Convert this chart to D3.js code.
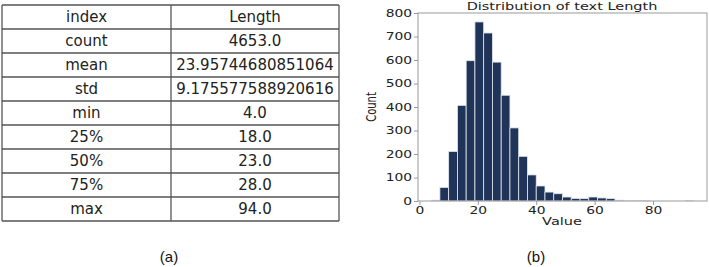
<!DOCTYPE html>
<html>
<head>
<meta charset="utf-8">
<script src="https://cdn.jsdelivr.net/npm/d3@7"></script>
<style>
  body { margin: 0; background: #fff; }
  svg { display: block; }
</style>
</head>
<body>
<div id="fig"></div>
<script>
// table (a)
var statNames = ["count", "mean", "std", "min", "25%", "50%", "75%", "max"];
var statValues = ["4653.0", "23.95744680851064", "9.175577588920616", "4.0", "18.0", "23.0", "28.0", "94.0"];
var tableHeader = ["index", "Length"];

// histogram (b): 30 bins of width 3 from 4 to 94
var binStarts = [4, 7, 10, 13, 16, 19, 22, 25, 28, 31, 34, 37, 40, 43, 46, 49, 52, 55, 58, 61, 64, 67, 70, 73, 76, 79, 82, 85, 88, 91];
var binCounts = [4, 58, 211, 407, 597, 762, 715, 591, 450, 311, 190, 111, 64, 38, 31, 17, 11, 10, 17, 13, 10, 4, 2, 1, 1, 0, 0, 0, 0, 1];
var binWidth = 3;
var xTicks = [0, 20, 40, 60, 80];
var yTicks = [0, 100, 200, 300, 400, 500, 600, 700, 800];

var W = 709, H = 267;
var svg = d3.select("#fig").append("svg")
  .attr("width", W)
  .attr("height", H);

// ---- table ----
var tLeft = 2, tMid = 171, tRight = 339, tTop = 5, rowH = 24;
var rows = [tableHeader].concat(statNames.map(function(n, i){ return [n, statValues[i]]; }));
var ty = d3.scaleLinear().domain([0, rows.length]).range([tTop, tTop + rows.length * rowH]);

var table = svg.append("g");
table.selectAll("line.h")
  .data(d3.range(rows.length + 1)).enter()
  .append("line")
  .attr("x1", tLeft).attr("x2", tRight)
  .attr("y1", function(d){ return ty(d); })
  .attr("y2", function(d){ return ty(d); })
  .attr("stroke", "#555").attr("stroke-width", 1.3);
table.selectAll("line.v")
  .data([tLeft, tMid, tRight]).enter()
  .append("line")
  .attr("x1", function(d){ return d; }).attr("x2", function(d){ return d; })
  .attr("y1", ty(0)).attr("y2", ty(rows.length))
  .attr("stroke", "#555").attr("stroke-width", 1.3);

rows.forEach(function(r, i){
  [0, 1].forEach(function(c){
    table.append("text")
      .attr("x", c == 0 ? (tLeft + tMid) / 2 : (tMid + tRight) / 2)
      .attr("y", ty(i) + rowH / 2)
      .attr("dy", "0.36em")
      .attr("text-anchor", "middle")
      .attr("font-family", "DejaVu Sans")
      .attr("font-size", 15)
      .attr("fill", "#222")
      .text(r[c]);
  });
});

// ---- histogram ----
var sx = 1.38; // horizontal stretch of the source image text
var x = d3.scaleLinear().domain([-0.5, 98.5]).range([418, 707]);
var y = d3.scaleLinear().domain([0, 800]).range([201, 13]);

var hist = svg.append("g");
hist.selectAll("rect")
  .data(binStarts).enter()
  .append("rect")
  .attr("x", function(d){ return x(d); })
  .attr("width", function(d){ return x(d + binWidth) - x(d); })
  .attr("y", function(d, i){ return y(binCounts[i]); })
  .attr("height", function(d, i){ return y(0) - y(binCounts[i]); })
  .attr("fill", "#203459")
  .attr("stroke", "#e4e8ee")
  .attr("stroke-width", 0.8);

// frame
hist.append("rect")
  .attr("x", x.range()[0]).attr("y", y.range()[1])
  .attr("width", x.range()[1] - x.range()[0])
  .attr("height", y.range()[0] - y.range()[1])
  .attr("fill", "none")
  .attr("stroke", "#9a9a9a")
  .attr("stroke-width", 1);

var xAxis = hist.append("g")
  .attr("transform", "translate(0," + y(0) + ")")
  .call(d3.axisBottom(x).tickValues(xTicks).tickSize(4).tickPadding(2).tickFormat(d3.format("d")));
var yAxis = hist.append("g")
  .attr("transform", "translate(" + x.range()[0] + ",0)")
  .call(d3.axisLeft(y).tickValues(yTicks).tickSize(4).tickPadding(2).tickFormat(d3.format("d")));

[xAxis, yAxis].forEach(function(a){
  a.select(".domain").remove();
  a.selectAll(".tick line").attr("stroke", "#9a9a9a");
  a.selectAll(".tick text")
    .attr("font-family", "DejaVu Sans")
    .attr("font-size", 10)
    .attr("fill", "#222");
});
xAxis.selectAll(".tick text").attr("transform", "scale(" + sx + ",1)");
yAxis.selectAll(".tick text")
  .attr("x", -6 / sx)
  .attr("transform", "scale(" + sx + ",1)");

function stretchedText(px, py, txt, size, rot) {
  return hist.append("text")
    .attr("transform", "translate(" + px + "," + py + ") scale(" + sx + ",1)" + (rot ? " rotate(" + rot + ")" : ""))
    .attr("text-anchor", "middle")
    .attr("font-family", "DejaVu Sans")
    .attr("font-size", size)
    .attr("fill", "#222")
    .text(txt);
}
stretchedText(562, 10, "Distribution of text Length", 10.5);
stretchedText(562, 225, "Value", 10.5);
stretchedText(376, 107, "Count", 10, -90);

// captions
svg.selectAll("text.cap")
  .data([["(a)", 169], ["(b)", 536]]).enter()
  .append("text")
  .attr("x", function(d){ return d[1]; })
  .attr("y", 262)
  .attr("text-anchor", "middle")
  .attr("font-family", "Liberation Sans")
  .attr("font-size", 15)
  .attr("fill", "#111")
  .text(function(d){ return d[0]; });
</script>
</body>
</html>
